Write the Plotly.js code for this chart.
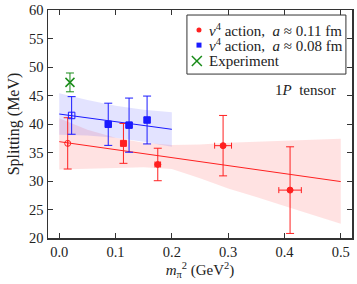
<!DOCTYPE html>
<html>
<head>
<meta charset="utf-8">
<script src="https://cdn.plot.ly/plotly-3.0.1.min.js"></script>
<style>html,body{margin:0;padding:0;background:#fff;}#chart{width:357px;height:284px;}</style>
</head>
<body>
<div id="chart"></div>
<script>
// Red series: v4 action, a ≈ 0.11 fm
const redX = [0.015, 0.114, 0.175, 0.291, 0.410];
const redY = [36.6, 36.6, 32.9, 36.2, 28.4];
const redErrY = [4.5, 3.5, 2.85, 5.3, 7.6];
const redErrX = [0, 0, 0.005, 0.015, 0.02];
const redSymbols = ['circle-open', 'square', 'circle', 'circle', 'circle'];

// Blue series: v4 action, a ≈ 0.08 fm
const blueX = [0.022, 0.087, 0.124, 0.156];
const blueY = [41.5, 39.95, 39.8, 40.7];
const blueErrY = [3.3, 3.7, 4.75, 4.2];
const blueErrX = [0, 0, 0.005, 0];
const blueSymbols = ['square-open', 'square', 'square', 'square'];

// Experiment
const expX = [0.019];
const expY = [47.3];
const expErrY = [1.65];

// Fit lines
const redFitX = [0, 0.5];
const redFitY = [36.9, 29.9];
const blueFitX = [0, 0.2];
const blueFitY = [41.75, 39.07];

// Fit bands
const redBandX = [0, 0.05, 0.1, 0.15, 0.2, 0.25, 0.3, 0.35, 0.4, 0.45, 0.5];
const redBandUpper = [41.0, 39.0, 37.6, 36.7, 36.3, 36.4, 36.7, 36.9, 37.1, 37.3, 37.4];
const redBandLower = [32.0, 32.1, 32.3, 32.4, 32.1, 30.5, 28.7, 27.2, 25.6, 24.0, 22.5];
const blueBandX = [0, 0.05, 0.1, 0.15, 0.2];
const blueBandUpper = [45.4, 44.2, 43.2, 42.5, 42.05];
const blueBandLower = [38.1, 38.0, 37.6, 36.9, 36.0];

// Labels
const legendLabels = [
  '<i>v</i><sup>4</sup> action,\u00a0\u00a0<i>a</i> \u2248 0.11 fm',
  '<i>v</i><sup>4</sup> action,\u00a0\u00a0<i>a</i> \u2248 0.08 fm',
  'Experiment'
];
const xTitle = '<i>m</i><sub>\u03c0</sub><sup>2</sup> (GeV<sup>2</sup>)';
const yTitle = 'Splitting (MeV)';
const panelLabel = '1<i>P</i>\u00a0\u00a0tensor';
const xTicks = [0, 0.1, 0.2, 0.3, 0.4, 0.5];
const xTickText = ['0.0', '0.1', '0.2', '0.3', '0.4', '0.5'];
const yTicks = [20, 25, 30, 35, 40, 45, 50, 55, 60];

const RED = '#ff2020';
const BLUE = '#1a1aff';
const GREEN = '#1a8c1a';
const FONT = 'Liberation Serif, DejaVu Serif, serif';
const TXT = '#222';

function band(xs, up, lo, color) {
  return {
    x: xs.concat(xs.slice().reverse()),
    y: up.concat(lo.slice().reverse()),
    type: 'scatter', mode: 'lines', fill: 'toself',
    fillcolor: color, line: {width: 0, color: 'rgba(0,0,0,0)'},
    hoverinfo: 'skip', showlegend: false
  };
}

const traces = [
  band(redBandX, redBandUpper, redBandLower, 'rgba(255,60,60,0.15)'),
  band(blueBandX, blueBandUpper, blueBandLower, 'rgba(70,70,255,0.15)'),
  {x: redFitX, y: redFitY, type: 'scatter', mode: 'lines', line: {color: RED, width: 1}, showlegend: false},
  {x: blueFitX, y: blueFitY, type: 'scatter', mode: 'lines', line: {color: BLUE, width: 1}, showlegend: false},
  {
    x: redX, y: redY, type: 'scatter', mode: 'markers', name: legendLabels[0], showlegend: false,
    marker: {color: RED, size: 6, symbol: redSymbols, line: {color: RED, width: 1}},
    error_y: {type: 'data', array: redErrY, visible: true, color: RED, thickness: 1, width: 4},
    error_x: {type: 'data', array: redErrX, visible: true, color: RED, thickness: 1, width: 3}
  },
  {
    x: blueX, y: blueY, type: 'scatter', mode: 'markers', name: legendLabels[1], showlegend: false,
    marker: {color: BLUE, size: 6.5, symbol: blueSymbols, line: {color: BLUE, width: 1}},
    error_y: {type: 'data', array: blueErrY, visible: true, color: BLUE, thickness: 1, width: 4},
    error_x: {type: 'data', array: blueErrX, visible: true, color: BLUE, thickness: 1, width: 3}
  },
  {
    x: expX, y: expY, type: 'scatter', mode: 'markers', name: legendLabels[2], showlegend: false,
    marker: {color: GREEN, size: 9, symbol: 'x-thin-open', line: {color: GREEN, width: 1.5}},
    error_y: {type: 'data', array: expErrY, visible: true, color: GREEN, thickness: 1, width: 4}
  }
];

// Manual legend geometry (paper coordinates)
const LX0 = 0.457, LX1 = 0.980, LY0 = 0.719, LY1 = 0.978;
const rowY = [0.912, 0.846, 0.776];
const symX = 0.4967, textX = 0.524;

const shapes = [
  {type: 'rect', xref: 'paper', yref: 'paper', x0: LX0, x1: LX1, y0: LY0, y1: LY1,
   fillcolor: '#fff', line: {color: '#333', width: 1}, layer: 'above'},
  {type: 'circle', xref: 'paper', yref: 'paper', xsizemode: 'pixel', ysizemode: 'pixel',
   xanchor: symX, yanchor: rowY[0], x0: -2.5, x1: 2.5, y0: -2.5, y1: 2.5,
   fillcolor: RED, line: {color: RED, width: 0}, layer: 'above'},
  {type: 'rect', xref: 'paper', yref: 'paper', xsizemode: 'pixel', ysizemode: 'pixel',
   xanchor: symX, yanchor: rowY[1], x0: -2.5, x1: 2.5, y0: -2.5, y1: 2.5,
   fillcolor: BLUE, line: {color: BLUE, width: 0}, layer: 'above'},
  {type: 'line', xref: 'paper', yref: 'paper', xsizemode: 'pixel', ysizemode: 'pixel',
   xanchor: symX - 0.007, yanchor: rowY[2], x0: -5, x1: 5, y0: -5, y1: 5,
   line: {color: GREEN, width: 1.5}, layer: 'above'},
  {type: 'line', xref: 'paper', yref: 'paper', xsizemode: 'pixel', ysizemode: 'pixel',
   xanchor: symX - 0.007, yanchor: rowY[2], x0: -5, x1: 5, y0: 5, y1: -5,
   line: {color: GREEN, width: 1.5}, layer: 'above'}
];

const annotations = legendLabels.map((t, i) => ({
  text: t, xref: 'paper', yref: 'paper', x: textX, y: rowY[i],
  xanchor: 'left', yanchor: 'middle', showarrow: false,
  font: {family: FONT, size: 15, color: TXT}
}));
annotations.push({
  text: panelLabel, xref: 'paper', yref: 'paper', x: 0.955, y: 0.647,
  xanchor: 'right', yanchor: 'middle', showarrow: false,
  font: {family: FONT, size: 15, color: TXT}
});

const axisCommon = {
  showline: true, linecolor: '#333', linewidth: 1.5, mirror: 'ticks',
  ticks: 'inside', ticklen: 5, tickwidth: 1, tickcolor: '#333',
  showgrid: false, zeroline: false,
  tickfont: {family: FONT, size: 14.5, color: TXT}
};

const layout = {
  width: 357, height: 284,
  margin: {l: 48, r: 5, t: 10, b: 46},
  paper_bgcolor: '#fff', plot_bgcolor: '#fff',
  font: {family: FONT, size: 14, color: TXT},
  xaxis: Object.assign({}, axisCommon, {
    range: [-0.02, 0.52], tickvals: xTicks, ticktext: xTickText,
    title: {text: xTitle, font: {family: FONT, size: 15, color: TXT}, standoff: 4}
  }),
  yaxis: Object.assign({}, axisCommon, {
    range: [20, 60], tickvals: yTicks,
    title: {text: yTitle, font: {family: FONT, size: 16, color: TXT}, standoff: 5}
  }),
  shapes: shapes,
  annotations: annotations,
  showlegend: false
};

Plotly.newPlot('chart', traces, layout, {staticPlot: true, displayModeBar: false});
</script>
</body>
</html>
